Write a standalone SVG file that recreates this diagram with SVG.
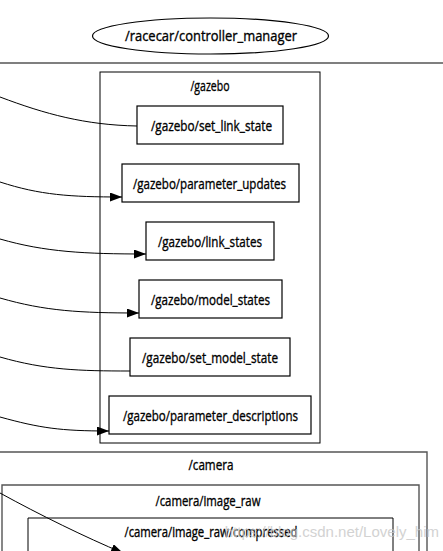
<svg xmlns="http://www.w3.org/2000/svg" width="443" height="551" viewBox="0 0 443 551">
<style>
text{font-family:"Open Sans","Liberation Sans",sans-serif;font-size:14.5px;fill:#000;stroke:#000;stroke-width:0.35;text-anchor:middle}
.box{fill:#fff;stroke:#000;stroke-width:1.2}
.cl{fill:none;stroke:#000;stroke-width:1}
.clg{fill:none;stroke:#555;stroke-width:1.4}
.e{fill:none;stroke:#000;stroke-width:1}
.wm{font-family:"Liberation Sans",Arial,sans-serif;font-size:15px;fill:#c8c8c8;stroke:none;text-anchor:end}
</style>
<defs>
<marker id="ah" markerUnits="userSpaceOnUse" markerWidth="14" markerHeight="10" refX="12" refY="4.5" orient="auto">
<path d="M0,0 L12,4.5 L0,9 Z" fill="#000"/>
</marker>
</defs>
<rect width="443" height="551" fill="#fff"/>
<g id="clusters">
<line x1="0" y1="63" x2="443" y2="63" class="clg"/>
<g id="cluster_gazebo">
<rect x="100" y="72" width="220" height="371" class="cl"/>
<text x="210" y="91" textLength="39" lengthAdjust="spacingAndGlyphs">/gazebo</text>
</g>
<g id="cluster_camera">
<path d="M-2,452 H427 V560" class="clg"/>
<text x="211" y="470" textLength="45" lengthAdjust="spacingAndGlyphs">/camera</text>
</g>
<g id="cluster_camera_image_raw">
<path d="M2,560 V485 H419 V560" class="clg"/>
<text x="208" y="506" textLength="105" lengthAdjust="spacingAndGlyphs">/camera/image_raw</text>
</g>
<g id="cluster_camera_image_raw_compressed">
<path d="M28,560 V518 H393 V560" class="cl"/>
<text x="211" y="537" textLength="173" lengthAdjust="spacingAndGlyphs">/camera/image_raw/compressed</text>
</g>
</g>
<g id="edges">
<path d="M0,97 C45,114 85,125 137,126" class="e"/>
<path d="M0,182 C40,195 70,197 122,197" class="e" marker-end="url(#ah)"/>
<path d="M0,239 C45,252 85,254 146,254" class="e" marker-end="url(#ah)"/>
<path d="M0,298 C45,311 80,313 139,313" class="e" marker-end="url(#ah)"/>
<path d="M0,357 C45,370 80,371 130,371" class="e"/>
<path d="M0,417 C40,428 60,431 109,431" class="e" marker-end="url(#ah)"/>
<path d="M0,493 C40,515 85,537 123,553" class="e" marker-end="url(#ah)"/>
</g>
<g id="n_controller_manager">
<ellipse cx="210.5" cy="36" rx="118" ry="18" fill="#fff" stroke="#000" stroke-width="1.2"/>
<text x="211" y="41" textLength="172" lengthAdjust="spacingAndGlyphs">/racecar/controller_manager</text>
</g>
<g id="n_set_link_state">
<rect x="137" y="106" width="146" height="38" class="box"/>
<text x="211.5" y="131" textLength="121" lengthAdjust="spacingAndGlyphs">/gazebo/set_link_state</text>
</g>
<g id="n_parameter_updates">
<rect x="122" y="164" width="177" height="38" class="box"/>
<text x="209.5" y="189" textLength="153" lengthAdjust="spacingAndGlyphs">/gazebo/parameter_updates</text>
</g>
<g id="n_link_states">
<rect x="146" y="222" width="128" height="38" class="box"/>
<text x="210" y="247" textLength="104" lengthAdjust="spacingAndGlyphs">/gazebo/link_states</text>
</g>
<g id="n_model_states">
<rect x="139" y="280" width="143" height="38" class="box"/>
<text x="210.5" y="305" textLength="119" lengthAdjust="spacingAndGlyphs">/gazebo/model_states</text>
</g>
<g id="n_set_model_state">
<rect x="130" y="338" width="160" height="38" class="box"/>
<text x="210" y="363" textLength="136" lengthAdjust="spacingAndGlyphs">/gazebo/set_model_state</text>
</g>
<g id="n_parameter_descriptions">
<rect x="109" y="396" width="202" height="38" class="box"/>
<text x="210.5" y="421" textLength="175" lengthAdjust="spacingAndGlyphs">/gazebo/parameter_descriptions</text>
</g>
<text class="wm" x="439" y="537" opacity="0.8">https://blog.csdn.net/Lovely_him</text>
</svg>
